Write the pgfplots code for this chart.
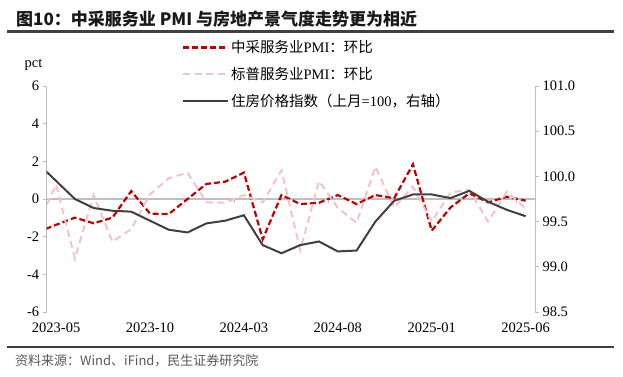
\documentclass[border=0pt]{standalone}
\usepackage{fontspec}
\setmainfont{Liberation Serif}
\newfontfamily\cjk{Noto Sans CJK SC}
\usepackage{pgfplots}
\usepackage{pgfplotstable}
\pgfplotsset{compat=1.18}
\definecolor{cred}{RGB}{192,0,0}
\definecolor{cpink}{RGB}{242,196,196}
\definecolor{cdark}{RGB}{64,64,64}
\definecolor{caxis}{RGB}{191,191,191}
\definecolor{crule}{RGB}{64,64,64}

% k = month index (0 = 2023-05, 25 = 2025-06); k=-1 is 2023-04, clipped at the axis edge
\pgfplotstableread{
k zc sp hp
-1 -1.77 -1.41 100.15
0 -1.37 0.77 99.95
1 -0.99 -3.17 99.75
2 -1.29 0.21 99.65
3 -0.99 -2.27 99.62
4 0.42 -1.60 99.61
5 -0.78 0.25 99.51
6 -0.80 1.10 99.41
7 0.00 1.40 99.38
8 0.80 -0.17 99.48
9 0.92 -0.20 99.51
10 1.40 0.21 99.57
11 -2.14 -0.18 99.24
12 0.21 1.52 99.15
13 -0.27 -2.71 99.24
14 -0.20 0.95 99.28
15 0.21 -0.47 99.17
16 -0.27 -1.27 99.18
17 0.21 1.72 99.50
18 0.04 -0.45 99.73
19 1.84 0.65 99.80
20 -1.68 -1.20 99.80
21 -0.45 0.35 99.76
22 0.30 0.48 99.84
23 -0.18 -1.20 99.72
24 0.12 0.39 99.63
25 -0.09 -0.50 99.56
}\data

\begin{document}
\begin{tikzpicture}[x=1bp,y=1bp]
\useasboundingbox (0,0) rectangle (623,376);
\node[anchor=base west, inner sep=0, font=\cjk\bfseries\fontsize{17bp}{20bp}\selectfont, text=black!90] at (16,351) {图10：中采服务业 PMI 与房地产景气度走势更为相近};
\draw[line width=2.5bp, crule] (7,344.5) -- (614,344.5);
\draw[line width=2.5bp, crule] (7,29) -- (614,29);
\node[anchor=base west, inner sep=0, font=\cjk\fontsize{13bp}{15bp}\selectfont, text=black!65] at (15,11) {资料来源：Wind、iFind，民生证券研究院};

\begin{axis}[
  at={(46.7bp,64bp)}, anchor=south west, scale only axis,
  width=488.3bp, height=226bp,
  xmin=-0.5, xmax=25.5, ymin=-6, ymax=6,
  axis x line*=bottom, axis y line*=left,
  x axis line style={draw=none},
  y axis line style={caxis, line width=1bp},
  xtick={0,5,10,15,20,25},
  xticklabels={2023-05,2023-10,2024-03,2024-08,2025-01,2025-06},
  xtick style={draw=none},
  ytick={-6,-4,-2,0,2,4,6},
  ytick style={caxis, line width=0.8bp},
  tick align=outside, major tick length=4bp,
  ticklabel style={font=\fontsize{14.5bp}{17bp}\selectfont},
  /pgf/number format/assume math mode=true,
  xticklabel style={yshift=-3bp},
  clip=true,
  legend cell align=left,
  legend style={draw=none, fill=none, at={(0.2765,1.21)}, anchor=north west,
    inner sep=0pt, row sep=9bp, font=\fontsize{14.5bp}{17bp}\selectfont,
    /tikz/every even column/.append style={column sep=4bp}},
  legend image code/.code={\draw[#1] (0bp,0bp) -- (45bp,0bp);},
]
\draw[caxis, line width=1.2bp] (axis cs:-0.5,0) -- (axis cs:25.5,0);
\pgfplotsinvokeforeach{4.5,9.5,14.5,19.5,24.5}{
  \draw[caxis, line width=0.8bp] (axis cs:#1,0) -- (axis cs:#1,-0.21);
}
\addplot[cred, line width=2.2bp, dash pattern=on 6bp off 3bp] table[x=k, y=zc] {\data};
\addlegendentry{{\cjk 中采服务业}PMI{\cjk ：环比}}
\addplot[cpink, line width=2bp, dash pattern=on 7bp off 4.5bp] table[x=k, y=sp] {\data};
\addlegendentry{{\cjk 标普服务业}PMI{\cjk ：环比}}
\addlegendimage{cdark, line width=2bp}
\addlegendentry{{\cjk 住房价格指数（上月}=100{\cjk ，右轴）}}
\end{axis}

\begin{axis}[
  at={(46.7bp,64bp)}, anchor=south west, scale only axis,
  width=488.3bp, height=226bp,
  xmin=-0.5, xmax=25.5, ymin=98.5, ymax=101,
  axis x line=none, axis y line*=right,
  y axis line style={caxis, line width=1bp},
  ytick={98.5,99.0,99.5,100.0,100.5,101.0},
  ytick style={caxis, line width=0.8bp},
  tick align=outside, major tick length=4bp,
  ticklabel style={font=\fontsize{14.5bp}{17bp}\selectfont},
  /pgf/number format/assume math mode=true,
  yticklabel style={/pgf/number format/.cd, fixed, fixed zerofill, precision=1},
  clip=true,
]
\addplot[cdark, line width=2bp] table[x=k, y=hp] {\data};
\end{axis}
\node[anchor=base, inner sep=0, font=\fontsize{14.5bp}{17bp}\selectfont] at (33.5,309) {pct};
\end{tikzpicture}
\end{document}
